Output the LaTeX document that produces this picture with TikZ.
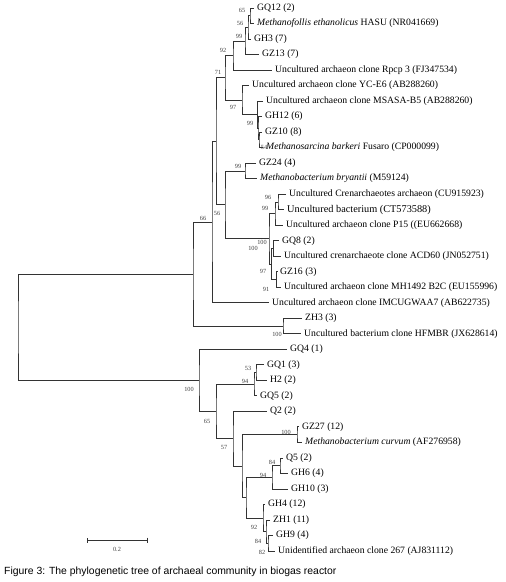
\documentclass[tikz,border=0pt]{standalone}
\usepackage{fontspec}
\setmainfont{Liberation Serif}
\newfontfamily\capfont{Liberation Sans}
\usetikzlibrary{arrows.meta,calc}
\newcommand\clade[4]{%
  \coordinate (m#1) at ($(#3)!0.5!(#4)$);
  \coordinate (#1) at (#2,0 |- m#1);
  \draw[br] (#3) -| (#1) |- (#4);}

\begin{document}
\begin{tikzpicture}[x=1pt,y=-1pt,
  br/.style={draw=black!80,line width=0.8pt},
  leaf/.style={anchor=west,inner xsep=3pt,inner ysep=0pt,font=\fontsize{9.7}{11}\selectfont},
  bs/.style={inner sep=0pt,text=black!75,font=\fontsize{6.3}{7}\selectfont}]
\useasboundingbox (0,0) rectangle (506,582);
\foreach \i/\x/\t in {1/254/{GQ12 (2)},2/254/{\textit{Methanofollis ethanolicus} HASU (NR041669)},
  3/251/{GH3 (7)},4/259/{GZ13 (7)},5/272/{Uncultured archaeon clone Rpcp 3 (FJ347534)},
  6/249/{Uncultured archaeon clone YC-E6 (AB288260)},7/263/{Uncultured archaeon clone MSASA-B5 (AB288260)},
  8/262/{GH12 (6)},9/262/{GZ10 (8)},10/263/{\textit{Methanosarcina barkeri} Fusaro (CP000099)},
  11/256/{GZ24 (4)},12/257/{\textit{Methanobacterium bryantii} (M59124)},
  13/286/{Uncultured Crenarchaeotes archaeon (CU915923)},
  14/284/{\fontsize{10.3}{12}\selectfont Uncultured bacterium (CT573588)},
  15/283/{Uncultured archaeon clone P15 ((EU662668)},16/279/{GQ8 (2)},
  17/281/{Uncultured crenarchaeote clone ACD60 (JN052751)},18/277/{GZ16 (3)},
  19/281/{Uncultured archaeon clone MH1492 B2C (EU155996)},
  20/269/{Uncultured archaeon clone IMCUGWAA7 (AB622735)},21/302/{ZH3 (3)},
  22/301/{Uncultured bacterium clone HFMBR (JX628614)},23/287/{GQ4 (1)},
  24/264/{GQ1 (3)},25/267/{H2 (2)},26/257/{GQ5 (2)},27/267/{Q2 (2)},28/299/{GZ27 (12)},
  29/302/{\textit{Methanobacterium curvum} (AF276958)},30/283/{Q5 (2)},31/288/{GH6 (4)},
  32/288/{GH10 (3)},33/265/{GH4 (12)},34/270/{ZH1 (11)},35/273/{GH9 (4)},
  36/275/{Unidentified archaeon clone 267 (AJ831112)}}
  \node[leaf] (l\i) at (\x,{8+15.514*(\i-1)}) {\t};
\clade{na}{250}{l1.west}{l2.west}
\clade{nb}{248}{na}{l3.west}
\clade{nc}{245}{nb}{l4.west}
\clade{nd}{233}{nc}{l5.west}
\clade{ne}{259}{l9.west}{l10.west}
\clade{nf}{258}{l8.west}{ne}
\clade{ng}{257.5}{l7.west}{nf}
\clade{nh}{242}{l6.west}{ng}
\clade{ni}{225}{nd}{nh}
\clade{nj}{245}{l11.west}{l12.west}
\clade{nk}{278}{l13.west}{l14.west}
\clade{nl}{275}{nk}{l15.west}
\clade{nm}{273.5}{l16.west}{l17.west}
\clade{nn}{276.5}{l18.west}{l19.west}
\clade{no}{271.5}{nm}{nn}
\clade{np}{269}{nl}{no}
\clade{nq}{225}{nj}{np}
\clade{nr}{216}{ni}{nq}
\clade{ns}{212}{nr}{l20.west}
\clade{nt}{283}{l21.west}{l22.west}
\clade{nu}{193}{ns}{nt}
\clade{nv}{256}{l24.west}{l25.west}
\clade{nw}{254}{nv}{l26.west}
\clade{nx}{297}{l28.west}{l29.west}
\clade{ny}{280}{l30.west}{l31.west}
\clade{nz}{272}{ny}{l32.west}
\clade{oa}{268}{l35.west}{l36.west}
\clade{ob}{266}{l34.west}{oa}
\clade{oc}{263}{l33.west}{ob}
\clade{od}{246}{nz}{oc}
\clade{oe}{242}{nx}{od}
\clade{of}{233}{l27.west}{oe}
\clade{og}{216}{nw}{of}
\clade{oh}{199}{l23.west}{og}
\clade{root}{18}{nu}{oh}
\foreach \j/\x/\y/\v in {1/242/10/65,2/240/23/56,3/239/36/99,4/223/50/92,5/218/72/71,
  6/233/107/97,7/250/123/99,8/264/147/54,9/238/166/99,10/268/197/96,11/265/208/99,
  12/262/242/100,13/253/248/100,14/263/271/97,15/266/289/91,16/217/213/56,17/203/218/66,
  18/277/334/100,19/189/389/100,20/248/368/53,21/245/381/94,22/207/421/65,23/224/447/57,
  24/286/432/100,25/272/462/84,26/263/475/94,27/254/527/92,28/258/541/84,29/262/552/82}
  \node[bs] (b\j) at (\x,\y) {\v};
\coordinate (sb1) at (87,540);
\coordinate (sb2) at (148,540);
\draw[br,{Bar[width=5pt]}-{Bar[width=5pt]}] (sb1) -- (sb2);
\node[bs] (sbl) at (117,549) {0.2};
\node[anchor=west,inner sep=0pt,font=\capfont\fontsize{10.4}{12}\selectfont] (cap) at (4,572)
  {Figure 3: The phylogenetic tree of archaeal community in biogas reactor};
\end{tikzpicture}
\end{document}
